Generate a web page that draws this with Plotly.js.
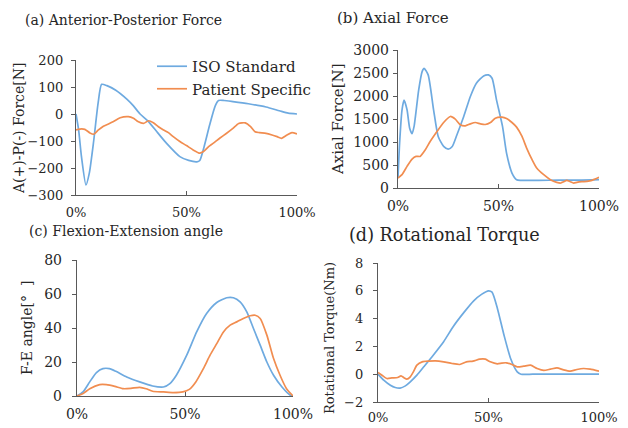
<!DOCTYPE html>
<html>
<head>
<meta charset="utf-8">
<script src="https://cdn.plot.ly/plotly-3.0.1.min.js"></script>
<style>html,body{margin:0;padding:0;background:#fff}#chart{width:628px;height:428px}</style>
</head>
<body>
<div id="chart"></div>
<script>
// ---------- Data (x in % of cycle) ----------
const seriesNames = ["ISO Standard", "Patient Specific"];
const xTickVals = [0, 50, 100];
const xTickText = ["0%", "50%", "100%"];

// (a) Anterior-Posterior Force [N]
const apIsoX = [0,1.2,2.5,4.5,6,8,10,11.6,14,18,23,26,29,32.8,37,41,47,51,54.7,56,58,60.5,63,64.5,67,71,78,86,92,96,100];
const apIsoY = [0,-60,-160,-263,-220,-100,40,110,105,88,55,30,0,-28,-70,-109,-158,-172,-177,-172,-120,-40,30,50,50,46,38,26,12,3,0];
const apPatX = [0,2.6,4,6.3,8,10,12.4,14.7,17,20,23.7,26,28,30.5,32.8,35,37.3,39.6,41.8,44,47,50,53,56,57.7,60,62,65,68,71,73.6,76.6,79,81,83,86,88.7,91,93,95.5,97.7,100];
const apPatY = [-59,-55,-57,-70,-75,-60,-45,-37,-28,-14,-10,-16,-28,-35,-25,-32,-47,-59,-69,-84,-102,-117,-133,-145,-139,-121,-109,-90,-72,-53,-35,-33,-47,-66,-69,-72,-78,-84,-90,-78,-69,-74];

// (b) Axial Force [N]
const axIsoX = [0,0.8,2,3,4.5,5.8,7,8,10.3,12,13,15,17.7,20,22.7,25,27,29,32.7,36,39,42.6,45,46.8,49,52,54,56.7,59,61,70,80,90,100];
const axIsoY = [217,976,1700,1910,1700,1300,1180,1338,2133,2530,2600,2460,1700,1120,904,846,904,1120,1555,1990,2278,2437,2458,2386,1916,1338,759,325,181,166,166,170,170,181];
const axPatX = [0,2,4.5,7,9,11,13.6,16,19.4,22.7,26,28.5,31,33.5,36,38.5,41,43.4,46,48.4,51.7,54,56.7,59,61.7,64,66.7,69,72.5,75.8,79,81,82.4,84,85.7,87.4,89,91.5,94,96.5,100];
const axPatY = [217,290,470,629,687,687,832,1012,1229,1424,1555,1497,1374,1352,1395,1424,1395,1381,1424,1518,1540,1511,1424,1323,1120,868,615,434,289,181,123,108,137,166,137,108,123,137,145,166,231];

// (c) Flexion-Extension angle [deg]
const feIsoX = [0,2.8,5.9,9,12,15,18,23,29,35,40,43,46,50.8,55.4,60,64.7,69.3,72.4,75.5,78.6,81.7,84.8,87.9,91,94.9,98.8,100];
const feIsoY = [0,2.4,8.3,13.8,16.1,16.1,14.5,11.2,8.3,5.9,5.3,7.3,12.2,24,37.7,48.5,55,57.8,57.8,55.4,49.5,39.7,29.9,20,12.2,5.3,0.4,0];
const fePatX = [0,2.8,5.9,10.5,13.6,17.5,21.4,25,29,32,35,40,44.6,49,52,55,58.5,61.6,64.7,67.8,70.9,74,77,80.2,82.5,84.8,87.9,91,94,97,100];
const fePatY = [0,1.4,4.3,6.7,6.7,5.7,4.3,4.5,5.1,4.3,2.8,2.4,2.0,2.4,3.9,8.3,16.1,24,30.8,37.7,41.7,43.6,45.6,47.2,47.5,45.6,35.8,22,12.2,4.3,0];

// (d) Rotational Torque [Nm]
const rtIsoX = [0,2.6,5.6,7.8,10,12.4,14.6,17.6,20.7,25,29.7,34,38.8,43.3,47,50,51.6,54,57,60,63,64.7,70,80,90,100];
const rtIsoY = [0,-0.43,-0.8,-0.96,-1.0,-0.84,-0.55,-0.07,0.53,1.37,2.34,3.42,4.43,5.28,5.76,6.0,5.9,4.75,2.82,1.13,0.17,0,0,0,0,0];
const rtPatX = [0,1.8,4,6.3,8.9,10.4,11.9,13,14.6,16,17.6,20,23,26,29.7,33.5,37,40,43,46,48.6,50.8,54,56,58,60.6,63,66,69,72,75,78,81,84,87,90,93,96,100];
const rtPatY = [0.12,-0.07,-0.31,-0.27,-0.24,-0.12,-0.27,-0.36,-0.19,0.17,0.65,0.89,0.94,0.96,0.89,0.77,0.7,0.89,0.94,1.08,1.08,0.89,0.75,0.8,0.82,0.7,0.53,0.58,0.65,0.41,0.27,0.36,0.46,0.31,0.22,0.34,0.41,0.36,0.22];

// ---------- Styling ----------
const W = 628, H = 428;
const BLUE = "#6EAAE0", ORANGE = "#F18D50";
const FONT = "DejaVu Serif";
const AXC = "#595959";
const TXT = "#262626";
const px = v => v / W, py = v => 1 - v / H;

function line(x, y, color, name, xa, ya, show) {
  return {x, y, type: "scatter", mode: "lines", name, xaxis: xa, yaxis: ya,
    showlegend: show, legendgroup: name,
    line: {color, width: 1.7, shape: "spline", smoothing: 0.6}, hoverinfo: "x+y"};
}

const data = [
  line(apIsoX, apIsoY, BLUE, seriesNames[0], "x", "y", true),
  line(apPatX, apPatY, ORANGE, seriesNames[1], "x", "y", true),
  line(axIsoX, axIsoY, BLUE, seriesNames[0], "x2", "y2", false),
  line(axPatX, axPatY, ORANGE, seriesNames[1], "x2", "y2", false),
  line(feIsoX, feIsoY, BLUE, seriesNames[0], "x3", "y3", false),
  line(fePatX, fePatY, ORANGE, seriesNames[1], "x3", "y3", false),
  line(rtIsoX, rtIsoY, BLUE, seriesNames[0], "x4", "y4", false),
  line(rtPatX, rtPatY, ORANGE, seriesNames[1], "x4", "y4", false)
];

function xax(d, anchor, fs, standoff) {
  return {domain: [px(d[0]), px(d[1])], anchor, range: [0, 100], tickvals: xTickVals, ticktext: xTickText,
    ticks: "inside", ticklen: 4, tickcolor: AXC, showline: true, linecolor: AXC, linewidth: 1.2,
    showgrid: false, zeroline: false, ticklabelstandoff: standoff,
    tickfont: {family: FONT, size: fs, color: TXT}};
}
function yax(d, anchor, range, dtick, fs, standoff) {
  return {domain: [py(d[1]), py(d[0])], anchor, range, dtick,
    ticks: "outside", ticklen: 4, tickcolor: AXC, showline: true, linecolor: AXC, linewidth: 1.2,
    showgrid: false, zeroline: false, ticklabelstandoff: standoff,
    tickfont: {family: FONT, size: fs, color: TXT}};
}

const layout = {
  width: W, height: H, margin: {l: 0, r: 0, t: 0, b: 0},
  paper_bgcolor: "#fff", plot_bgcolor: "#fff",
  font: {family: FONT, color: TXT},
  xaxis: xax([76, 297], "y", 13, 5),
  yaxis: yax([60, 195], "x", [-300, 200], 100, 13, 5),
  xaxis2: xax([398, 599], "y2", 14, 5),
  yaxis2: yax([50, 188], "x2", [0, 3000], 500, 14, 1),
  xaxis3: xax([77, 293], "y3", 14, 5),
  yaxis3: yax([260, 396], "x3", [0, 80], 20, 14, 7),
  xaxis4: xax([378, 599], "y4", 13, 3),
  yaxis4: yax([263, 402], "x4", [-2, 8], 2, 13, 7),
  showlegend: true,
  legend: {x: px(152), y: py(50), xanchor: "left", yanchor: "top", bgcolor: "rgba(0,0,0,0)",
    font: {family: FONT, size: 15, color: TXT}, itemwidth: 30, tracegroupgap: 0},
  annotations: [
    {text: "(a) Anterior-Posterior Force", x: px(23), y: py(20), xanchor: "left", yanchor: "middle", size: 14},
    {text: "(b) Axial Force", x: px(335), y: py(18), xanchor: "left", yanchor: "middle", size: 15},
    {text: "(c) Flexion-Extension angle", x: px(27), y: py(231), xanchor: "left", yanchor: "middle", size: 14},
    {text: "(d) Rotational Torque", x: px(347), y: py(235), xanchor: "left", yanchor: "middle", size: 17.6},
    {text: "A(+)-P(-) Force[N]", x: px(19), y: py(129), textangle: -90, size: 14},
    {text: "Axial Force[N]", x: px(338), y: py(119), textangle: -90, size: 15},
    {text: "F-E angle[°  ]", x: px(27), y: py(328), textangle: -90, size: 14},
    {text: "Rotational Torque(Nm)", x: px(329), y: py(338), textangle: -90, size: 13}
  ].map(a => ({text: a.text, x: a.x, y: a.y, xref: "paper", yref: "paper", showarrow: false,
      xanchor: a.xanchor || "center", yanchor: a.yanchor || "middle", textangle: a.textangle || 0,
      font: {family: FONT, size: a.size, color: TXT}}))
};

Plotly.newPlot("chart", data, layout, {displayModeBar: false, staticPlot: true});
</script>
</body>
</html>
